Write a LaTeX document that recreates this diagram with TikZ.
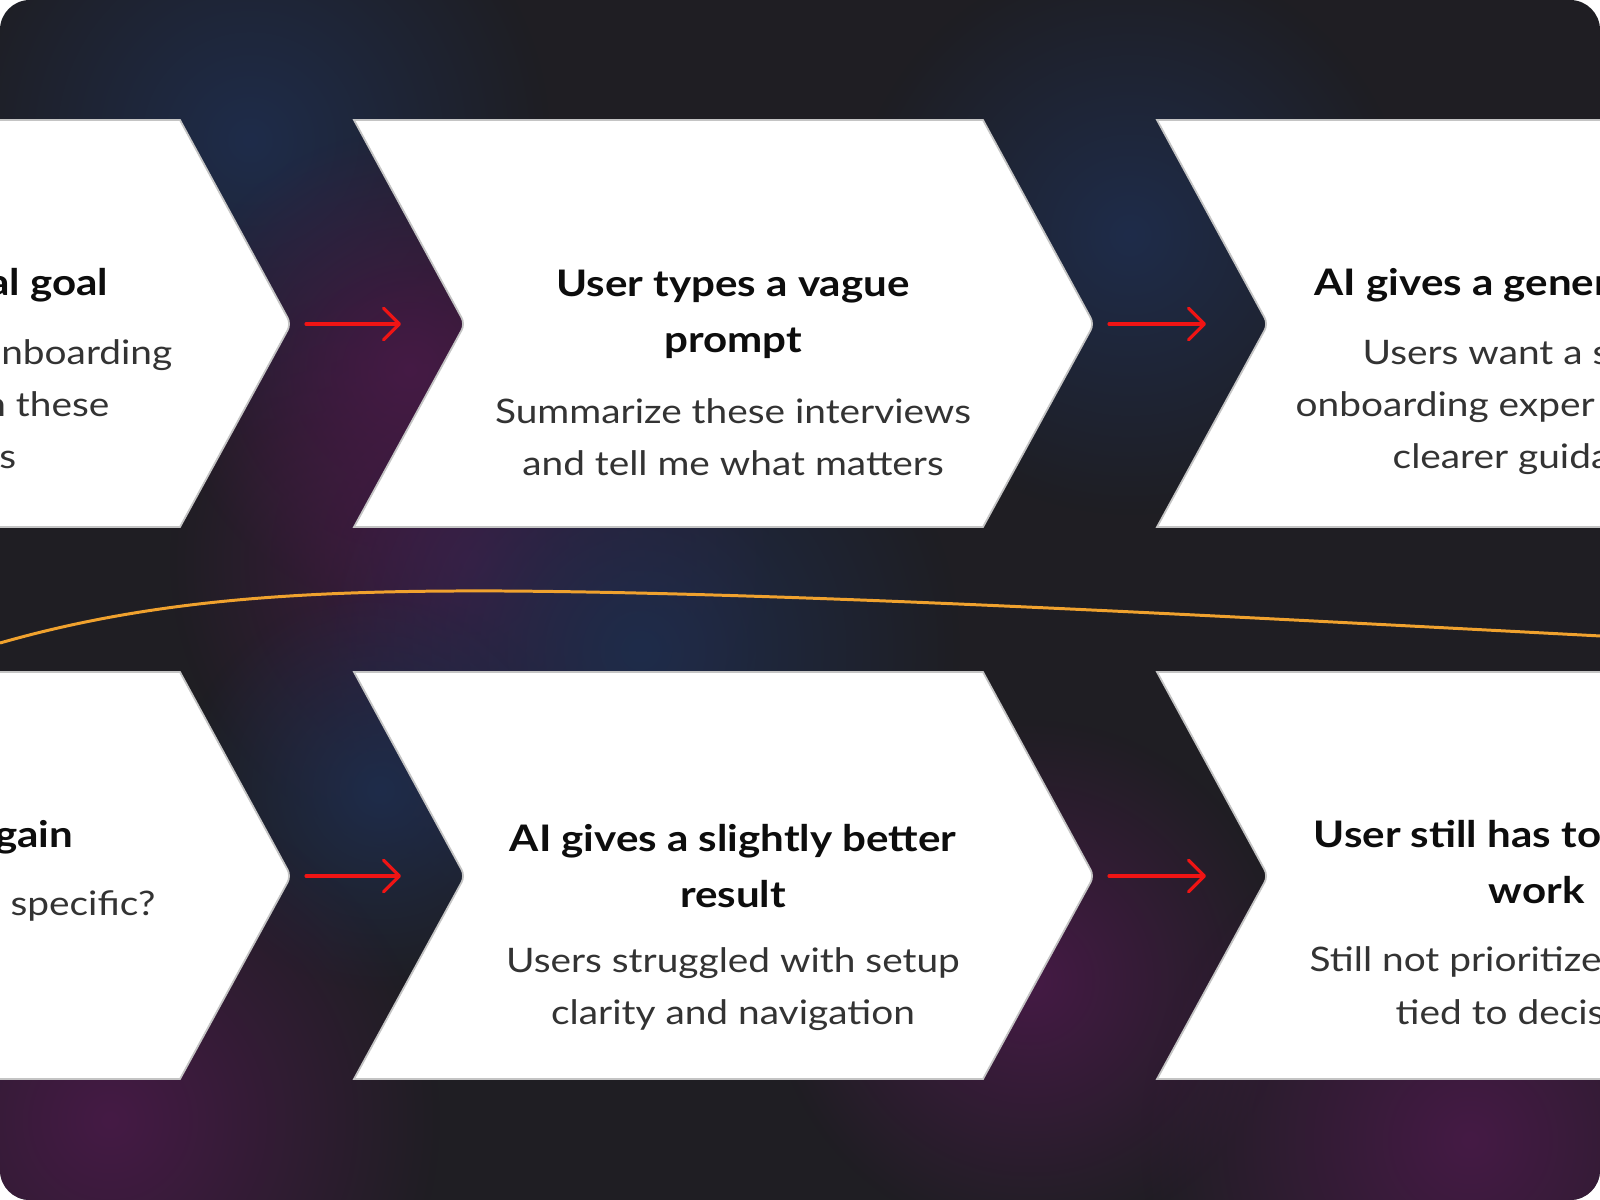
\documentclass[tikz,border=0pt]{standalone}
\usepackage{fontspec}
\setmainfont{Lato}[FakeStretch=1.15]
\usetikzlibrary{arrows.meta,calc,fadings}
\definecolor{bgbase}{HTML}{1F1E23}
\definecolor{glowblue}{HTML}{1E2C4A}
\definecolor{glowpurple}{HTML}{451A45}
\definecolor{chevedge}{HTML}{C4C4C4}
\definecolor{bodygray}{HTML}{333333}
\definecolor{flowred}{HTML}{F01414}
\definecolor{threadorange}{HTML}{F0A22E}
\tikzfading[name=glowfade,inner color=transparent!0,outer color=transparent!100]
\begin{document}
\begin{tikzpicture}[x=0.01cm,y=-0.01cm,every node/.style={inner sep=0pt},
  chev/.style={fill=white,draw=chevedge,line width=0.5pt},
  ttl/.style={font=\fontsize{10.4}{16}\selectfont\bfseries,text=black!95,align=center},
  bdy/.style={font=\fontsize{9.6}{14.8}\selectfont,text=bodygray,align=center},
  cut/.style={text height=0.52em,text depth=0pt},
  flow/.style={draw=flowred,line width=0.9pt,line cap=round,-{Straight Barb[round,length=4.5pt,width=9pt]}},
  thread/.style={draw=threadorange,line width=0.85pt}]
\useasboundingbox (0,0) rectangle (1600,1200);
\begin{scope}
\clip[rounded corners=8.5pt] (0,0) rectangle (1600,1200);
\fill[bgbase] (0,0) rectangle (1600,1200);
% glows
\fill[glowblue,path fading=glowfade] (250,140) circle (300);
\fill[glowpurple,path fading=glowfade] (410,370) circle (240);
\fill[glowblue,path fading=glowfade] (1130,235) circle (280);
\fill[glowpurple,path fading=glowfade] (470,560) circle (300);
\fill[glowblue,path fading=glowfade] (640,650) circle (320);
\fill[glowblue,path fading=glowfade] (380,790) circle (200);
\fill[glowpurple,path fading=glowfade] (1030,980) circle (260);
\fill[glowpurple,path fading=glowfade] (110,1120) circle (330);
\fill[glowpurple,path fading=glowfade] (1470,1140) circle (330);
% thread
\draw[thread] (0,643) .. controls (150,600) and (300,590) .. (505,591) .. controls (800,593) and (1200,615) .. (1620,637);
% top row
\draw[chev] (-449,120) -- (180,120) [rounded corners=2pt] -- (291,324) [sharp corners] -- (180,527) -- (-449,527) -- cycle;
\draw[chev] (354,120) -- (983,120) [rounded corners=2pt] -- (1094,324) [sharp corners] -- (983,527) -- (354,527) [rounded corners=2pt] -- (465,324) [sharp corners] -- cycle;
\draw[chev] (1157,120) -- (1700,120) -- (1700,527) -- (1157,527) [rounded corners=2pt] -- (1268,324) [sharp corners] -- cycle;
\coordinate (tipA) at (291,324);
\coordinate (notchB) at (465,324);
\coordinate (tipB) at (1094,324);
\coordinate (notchC) at (1268,324);
% bottom row
\draw[chev] (-449,672) -- (180,672) [rounded corners=2pt] -- (291,876) [sharp corners] -- (180,1079) -- (-449,1079) -- cycle;
\draw[chev] (354,672) -- (983,672) [rounded corners=2pt] -- (1094,876) [sharp corners] -- (983,1079) -- (354,1079) [rounded corners=2pt] -- (465,876) [sharp corners] -- cycle;
\draw[chev] (1157,672) -- (1700,672) -- (1700,1079) -- (1157,1079) [rounded corners=2pt] -- (1268,876) [sharp corners] -- cycle;
\coordinate (tipD) at (291,876);
\coordinate (notchE) at (465,876);
\coordinate (tipE) at (1094,876);
\coordinate (notchF) at (1268,876);
% arrows
\draw[flow] ($(tipA)+(15,0)$) -- ($(notchB)+(-64,0)$);
\draw[flow] ($(tipB)+(15,0)$) -- ($(notchC)+(-62,0)$);
\draw[flow] ($(tipD)+(15,0)$) -- ($(notchE)+(-64,0)$);
\draw[flow] ($(tipE)+(15,0)$) -- ($(notchF)+(-62,0)$);
% texts, top row
\node[ttl,cut,anchor=east] (goalA) at (109,286) {al goal};
\node[bdy,cut,anchor=east] (goalB) at (173,355) {nboarding};
\node[bdy,cut,anchor=east] (goalC) at (110,407) {n these};
\node[bdy,cut,anchor=east] (goalD) at (17,459) {s};
\node[ttl] (vagueT) at (733,314) {User types a vague\\prompt};
\node[bdy] (vagueB) at (733,437) {Summarize these interviews\\and tell me what matters};
\node[ttl,cut,anchor=west] (genT) at (1314,286) {AI gives a gener};
\node[bdy,cut,anchor=west] (genA) at (1362,355) {Users want a s};
\node[bdy,cut,anchor=west] (genB) at (1295,407) {onboarding exper};
\node[bdy,cut,anchor=west] (genC) at (1392,459) {clearer guida};
% texts, bottom row
\node[ttl,cut,anchor=east] (againT) at (74,838) {gain};
\node[bdy,cut,anchor=east] (againB) at (156,906) {specific?};
\node[ttl] (betterT) at (733,866) {AI gives a slightly better\\result};
\node[bdy] (betterB) at (733,989) {Users struggled with setup\\clarity and navigation};
\node[ttl,cut,anchor=west] (stillA) at (1313,838) {User still has to};
\node[ttl,cut,anchor=west] (stillB) at (1488,894) {work};
\node[bdy,cut,anchor=west] (stillC) at (1309,962) {Still not prioritized};
\node[bdy,cut,anchor=west] (stillD) at (1395,1015) {tied to decis};
\end{scope}
\end{tikzpicture}
\end{document}
